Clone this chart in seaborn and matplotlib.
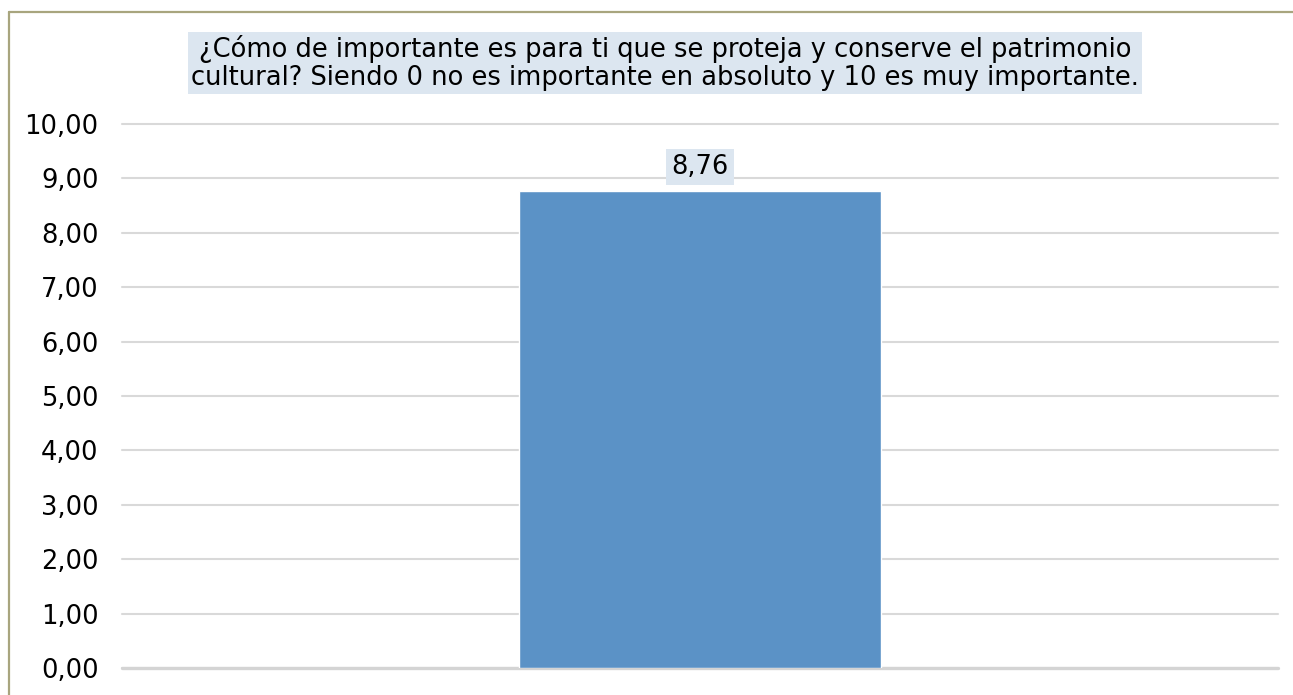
import matplotlib
matplotlib.use("Agg")
import matplotlib.pyplot as plt
import seaborn as sns
import pandas as pd
from matplotlib.lines import Line2D
from matplotlib.ticker import FuncFormatter, MultipleLocator

# Data
categories = [""]
values = [8.76]
title = ("¿Cómo de importante es para ti que se proteja y conserve el patrimonio\n"
         "cultural? Siendo 0 no es importante en absoluto y 10 es muy importante.")

df = pd.DataFrame({"cat": categories, "val": values})

sns.set_theme(style="white")
plt.rcParams["font.family"] = ["DejaVu Sans"]
plt.rcParams["text.color"] = "#000000"

fig = plt.figure(figsize=(12.93, 6.95), dpi=100)
ax = fig.add_axes([122 / 1293, 1 - 668 / 695, (1278 - 122) / 1293, (668 - 124) / 695])

sns.barplot(data=df, x="cat", y="val", color="#5B92C6", saturation=1, width=0.313, ax=ax, zorder=3)

ax.set_ylim(0, 10)
ax.set_xlim(-0.5, 0.5)
ax.yaxis.set_major_locator(MultipleLocator(1))
ax.yaxis.set_major_formatter(FuncFormatter(lambda v, p: f"{v:.2f}".replace(".", ",")))
ax.grid(axis="y", color="#D9D9D9", linewidth=1.5)
for gl in ax.get_ygridlines():
    gl.set_clip_on(False)
ax.set_axisbelow(True)
for s in ax.spines.values():
    s.set_visible(False)
ax.axhline(0, color="#D4D4D4", linewidth=2.4, zorder=1, clip_on=False)
ax.set_xlabel("")
ax.set_ylabel("")
ax.set_xticks([])
ax.tick_params(axis="y", labelsize=18.5, colors="#000000", pad=17, length=0)
for lbl in ax.get_yticklabels():
    lbl.set_verticalalignment("center_baseline")

# value label
for i, v in enumerate(values):
    ax.text(i, v + 0.45, f"{v:.2f}".replace(".", ","), ha="center", va="center", fontsize=18.5,
            bbox=dict(facecolor="#DCE6F0", edgecolor="none", pad=3.5))

fig.text(665 / 1293, 1 - 63 / 695, title, ha="center", va="center", fontsize=18.5, linespacing=1.08,
         bbox=dict(facecolor="#DCE6F0", edgecolor="none", pad=2.0))

# frame (top and left borders visible)
fig.add_artist(Line2D([9 / 1293, 1], [1 - 12 / 695, 1 - 12 / 695], color="#A8A57E", linewidth=1.6,
                      transform=fig.transFigure))
fig.add_artist(Line2D([9 / 1293, 9 / 1293], [0, 1 - 12 / 695], color="#A8A57E", linewidth=1.6,
                      transform=fig.transFigure))

fig.savefig("out.png", dpi=100)
